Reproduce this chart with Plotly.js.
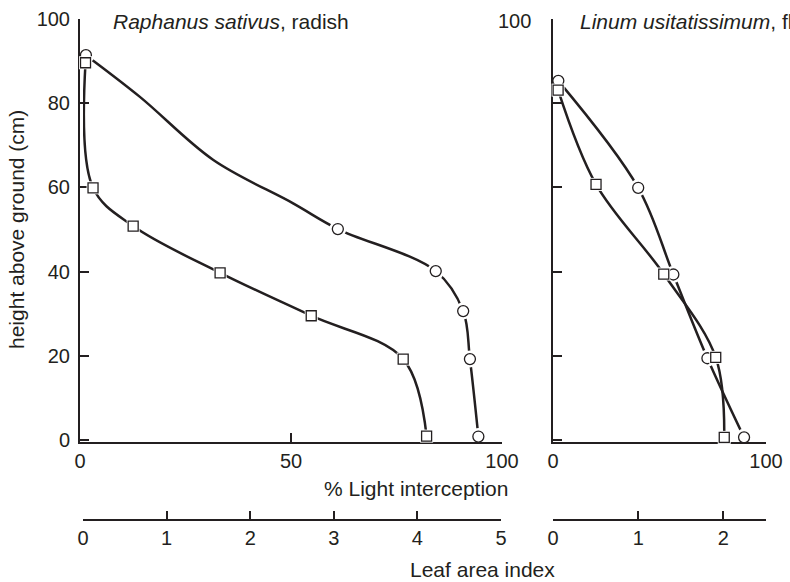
<!DOCTYPE html>
<html>
<head>
<meta charset="utf-8">
<script src="https://cdn.plot.ly/plotly-3.0.1.min.js"></script>
<style>
  html, body { margin: 0; padding: 0; background: #ffffff; }
  #chart { width: 790px; height: 582px; }
</style>
</head>
<body>
<div id="chart"></div>
<script>
// Raphanus sativus (radish): light interception (%) and cumulative leaf area index vs height
const radishLightPct    = [1.4, 61.1, 84.3, 90.8, 92.4, 94.4];
const radishLightHeight = [91.4, 50.1, 40.1, 30.6, 19.2, 0.8];
const radishLai         = [0.03, 0.12, 0.60, 1.64, 2.73, 3.83, 4.11];
const radishLaiHeight   = [89.6, 59.9, 50.8, 39.7, 29.5, 19.2, 0.9];
// path of the hand-drawn light-interception curve (measured points plus its bends)
const radishLightCurvePct    = [1.4, 14.2, 31.6, 50.5, 61.1, 84.3, 90.8, 92.4, 94.4];
const radishLightCurveHeight = [91.4, 81.5, 66.5, 56.2, 50.1, 40.1, 30.6, 19.2, 0.8];

// Linum usitatissimum (flax)
const flaxLightPct    = [2.5, 40.0, 56.5, 72.5, 89.7];
const flaxLightHeight = [85.3, 59.9, 39.3, 19.4, 0.6];
const flaxLai         = [0.06, 0.505, 1.30, 1.91, 2.01];
const flaxLaiHeight   = [83.1, 60.7, 39.4, 19.6, 0.6];

// Axis ticks
const heightTicks     = [0, 20, 40, 60, 80, 100];
const radishPctTicks  = [0, 50, 100];
const flaxPctTicks    = [0, 100];
const radishLaiTicks  = [0, 1, 2, 3, 4, 5];
const flaxLaiTicks    = [0, 1, 2];

const INK = '#231f20';
const FONT = 'Arial, "Liberation Sans", Helvetica, sans-serif';
const W = 790, H = 582;
const px = v => v / W;          // horizontal pixel -> paper fraction
const py = v => 1 - v / H;      // vertical pixel -> paper fraction

function curve(x, y, xa, ya) {
  return { x, y, xaxis: xa, yaxis: ya, type: 'scatter', mode: 'lines',
           line: { color: INK, width: 2.5, shape: 'spline', smoothing: 1 },
           hoverinfo: 'skip', showlegend: false };
}
// white backing under each marker so the curves stop short of it
function halo(x, y, xa, ya, symbol, size) {
  return { x, y, xaxis: xa, yaxis: ya, type: 'scatter', mode: 'markers', cliponaxis: false,
           marker: { symbol, size, color: '#ffffff', line: { width: 0 } },
           hoverinfo: 'skip', showlegend: false };
}
function points(x, y, xa, ya, symbol, size) {
  return { x, y, xaxis: xa, yaxis: ya, type: 'scatter', mode: 'markers', cliponaxis: false,
           marker: { symbol, size, color: '#ffffff', line: { color: INK, width: 1.3 } },
           hoverinfo: 'skip', showlegend: false };
}

const traces = [
  curve(radishLightCurvePct, radishLightCurveHeight, 'x', 'y'),
  curve(flaxLightPct, flaxLightHeight, 'x2', 'y2'),
  halo(radishLightPct, radishLightHeight, 'x', 'y', 'circle', 17),
  halo(flaxLightPct, flaxLightHeight, 'x2', 'y2', 'circle', 17),
  points(radishLightPct, radishLightHeight, 'x', 'y', 'circle', 11),
  points(flaxLightPct, flaxLightHeight, 'x2', 'y2', 'circle', 11),

  curve(radishLai, radishLaiHeight, 'x3', 'y'),
  curve(flaxLai, flaxLaiHeight, 'x4', 'y2'),
  halo(radishLai, radishLaiHeight, 'x3', 'y', 'square', 13),
  halo(flaxLai, flaxLaiHeight, 'x4', 'y2', 'square', 13),
  points(radishLai, radishLaiHeight, 'x3', 'y', 'square', 10),
  points(flaxLai, flaxLaiHeight, 'x4', 'y2', 'square', 10)
];

const tickFont = { family: FONT, size: 20, color: INK };
const textFont = { family: FONT, size: 21, color: INK };
const baseAxis = {
  showgrid: false, zeroline: false, showline: true, linecolor: INK, linewidth: 2,
  ticks: 'inside', ticklen: 9, tickwidth: 2, tickcolor: INK,
  tickfont: tickFont, fixedrange: true, tickmode: 'array'
};

const yDomain = [py(442), py(19)];
const laiPos = py(520);

const layout = {
  width: W, height: H,
  margin: { l: 0, r: 0, t: 0, b: 0 },
  paper_bgcolor: '#ffffff', plot_bgcolor: 'rgba(0,0,0,0)',
  showlegend: false,
  xaxis: Object.assign({}, baseAxis, {
    domain: [px(80), px(502)], range: [0, 100], anchor: 'y',
    tickvals: radishPctTicks, ticktext: radishPctTicks.map(String)
  }),
  yaxis: Object.assign({}, baseAxis, {
    domain: yDomain, range: [-0.5, 100], anchor: 'x',
    tickvals: heightTicks, ticktext: heightTicks.map(String), ticklabelstandoff: 4
  }),
  xaxis2: Object.assign({}, baseAxis, {
    domain: [px(553), px(766)], range: [0, 100], anchor: 'y2',
    tickvals: flaxPctTicks, ticktext: flaxPctTicks.map(String)
  }),
  yaxis2: Object.assign({}, baseAxis, {
    domain: yDomain, range: [-0.5, 100], anchor: 'x2',
    tickvals: heightTicks, showticklabels: false
  }),
  xaxis3: Object.assign({}, baseAxis, {
    domain: [px(83), px(501)], range: [0, 5], anchor: 'free', position: laiPos,
    ticklen: 8, tickvals: radishLaiTicks, ticktext: radishLaiTicks.map(String)
  }),
  xaxis4: Object.assign({}, baseAxis, {
    domain: [px(553), px(766)], range: [0, 2.5], anchor: 'free', position: laiPos,
    ticklen: 8, tickvals: flaxLaiTicks, ticktext: flaxLaiTicks.map(String)
  }),
  annotations: [
    { text: '<i>Raphanus sativus</i>, radish', x: px(111), y: py(22), xref: 'paper', yref: 'paper',
      xanchor: 'left', yanchor: 'middle', showarrow: false, font: textFont },
    { text: '<i>Linum usitatissimum</i>, flax', x: px(578), y: py(22), xref: 'paper', yref: 'paper',
      xanchor: 'left', yanchor: 'middle', showarrow: false, font: textFont },
    { text: '100', x: px(533), y: py(21), xref: 'paper', yref: 'paper',
      xanchor: 'right', yanchor: 'middle', showarrow: false, font: tickFont },
    { text: 'height above ground (cm)', x: px(17), y: py(230), xref: 'paper', yref: 'paper',
      xanchor: 'center', yanchor: 'middle', textangle: -90, showarrow: false, font: textFont },
    { text: '% Light interception', x: px(510), y: py(488), xref: 'paper', yref: 'paper',
      xanchor: 'right', yanchor: 'middle', showarrow: false, font: textFont },
    { text: 'Leaf area index', x: px(482), y: py(569), xref: 'paper', yref: 'paper',
      xanchor: 'center', yanchor: 'middle', showarrow: false, font: textFont }
  ]
};

Plotly.newPlot('chart', traces, layout, { staticPlot: true, displayModeBar: false });
</script>
</body>
</html>
